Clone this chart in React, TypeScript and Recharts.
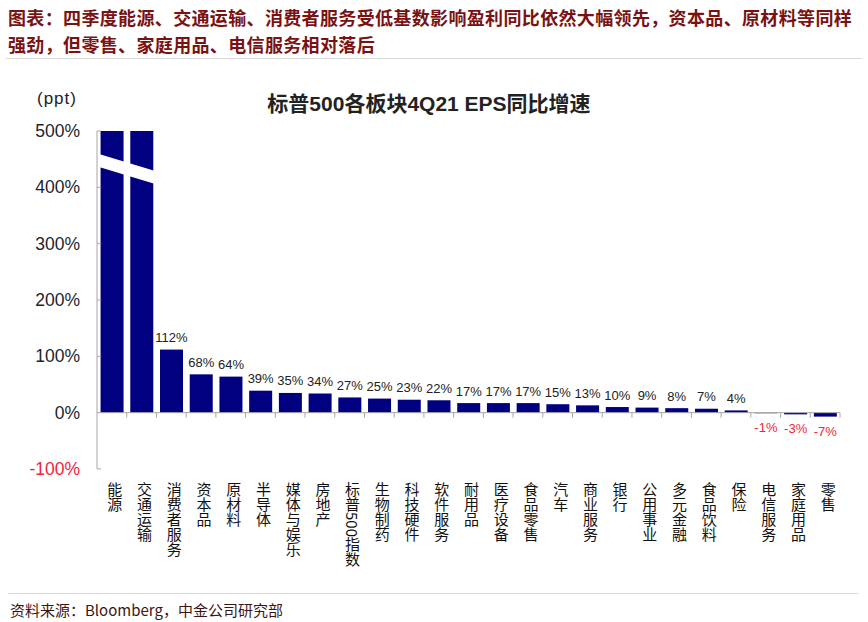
import { BarChart, Bar, XAxis, YAxis, ReferenceLine, LabelList } from 'recharts'

const sectors = [
  '能源', '交通运输', '消费者服务', '资本品', '原材料', '半导体', '媒体与娱乐', '房地产',
  '标普500指数', '生物制药', '科技硬件', '软件服务', '耐用品', '医疗设备', '食品零售', '汽车',
  '商业服务', '银行', '公用事业', '多元金融', '食品饮料', '保险', '电信服务', '家庭用品', '零售',
]
// first two run off the top of the axis (broken bars), shown capped at 500
const epsGrowth = [500, 500, 112, 68, 64, 39, 35, 34, 27, 25, 23, 22, 17, 17, 17, 15, 13, 10, 9, 8, 7, 4, -1, -3, -7]
const yTicks = [-100, 0, 100, 200, 300, 400, 500]
const Y_MAX = 500

const W = 868
const H = 622
const PLOT_L = 97
const PLOT_R = 840
const PLOT_T = 131
const PLOT_B = 469
const BAND = (PLOT_R - PLOT_L) / sectors.length
const ZERO_Y = PLOT_T + (PLOT_B - PLOT_T) * (500 / 600)
const AXIS = '#a6a6a6'
const NUM_FONT = '"Liberation Sans", Arial, "Noto Sans CJK SC", sans-serif'
const CJK_FONT = '"Noto Sans CJK SC", "Liberation Sans", sans-serif'

const data = sectors.map((name, i) => ({ name, v: epsGrowth[i] }))

const YTick = ({ y, payload }: any) => {
  const red = payload.value < 0
  return (
    <g>
      {payload.value !== 0 && <line x1={PLOT_L} x2={PLOT_L + 4} y1={y} y2={y} stroke={AXIS} />}
      <text x={PLOT_L - 17} y={y + 6} textAnchor="end" fontSize={17.5} fontFamily={NUM_FONT}
        fill={red ? '#f3233c' : '#1f1f2e'}>{payload.value}%</text>
    </g>
  )
}

const XTick = ({ x, payload }: any) => (
  <g>
    <line x1={x + BAND / 2} x2={x + BAND / 2} y1={ZERO_Y} y2={ZERO_Y + 5} stroke={AXIS} />
    <text x={x + 3} y={482} fontSize={15} fontFamily={CJK_FONT} fill="#111"
      style={{ writingMode: 'vertical-rl' } as any}>{payload.value}</text>
  </g>
)

const BrokenBar = (p: any) => {
  const { x, y, width, height, fill, value } = p
  const v = Array.isArray(value) ? value[1] : value
  const top = Math.min(y, y + height)
  const h = Math.abs(height)
  if (v < Y_MAX) return <rect x={x} y={top} width={width} height={h} fill={fill} />
  const yAt = (px: number) => top + 22.5 + (px - PLOT_L) * 0.3
  const xl = x - 4
  const xr = x + width + 1
  return (
    <g>
      <rect x={x} y={top} width={width} height={h} fill={fill} />
      <polygon points={`${xl},${yAt(xl)} ${xr},${yAt(xr)} ${xr},${yAt(xr) + 13} ${xl},${yAt(xl) + 13}`} fill="#fff" />
    </g>
  )
}

const ValueLabel = (p: any) => {
  const { x, y, width, height, value } = p
  if (value >= Y_MAX) return null
  const top = Math.min(y, y + height)
  const bottom = Math.max(y, y + height)
  const neg = value < 0
  return (
    <text x={x + width / 2} y={neg ? bottom + 19 : top - 7.5} textAnchor="middle" fontSize={13}
      fontFamily={NUM_FONT} fill={neg ? '#f3233c' : '#222'}>{value}%</text>
  )
}

export default function App() {
  return (
    <div style={{ position: 'absolute', left: 0, top: 0, width: W, height: H, background: '#fff', overflow: 'hidden' }}>
      <div style={{ position: 'absolute', left: 8, top: 4, width: 856, fontFamily: CJK_FONT, fontWeight: 700,
        fontSize: 18, lineHeight: '27px', color: '#7a1212', letterSpacing: 0.35 }}>
        图表：四季度能源、交通运输、消费者服务受低基数影响盈利同比依然大幅领先，资本品、原材料等同样强劲，但零售、家庭用品、电信服务相对落后
      </div>
      <div style={{ position: 'absolute', left: 6, top: 58, width: 856, height: 1, background: '#d9d9d9' }} />

      <div style={{ position: 'absolute', left: 0, top: 87, width: W, textAlign: 'center',
        fontFamily: NUM_FONT, fontWeight: 700, fontSize: 21, color: '#222' }}>
        <span style={{ position: 'relative', left: -5 }}>标普500各板块4Q21 EPS同比增速</span>
      </div>
      <div style={{ position: 'absolute', left: 37, top: 89, fontFamily: NUM_FONT, fontSize: 17, letterSpacing: 1, color: '#222' }}>(ppt)</div>

      <div style={{ position: 'absolute', left: 0, top: 0 }}>
        <BarChart width={W} height={H} data={data} barCategoryGap="12%"
          margin={{ top: PLOT_T, right: W - PLOT_R, bottom: 33, left: PLOT_L - 60 }}>
          <YAxis domain={[-100, Y_MAX]} ticks={yTicks} allowDataOverflow width={60} interval={0}
            axisLine={{ stroke: AXIS }} tickLine={false} tick={<YTick />} />
          <XAxis dataKey="name" height={120} interval={0} axisLine={false} tickLine={false} tick={<XTick />} />
          <ReferenceLine y={0} stroke={AXIS} />
          <Bar dataKey="v" fill="#000080" isAnimationActive={false} shape={<BrokenBar />}>
            <LabelList dataKey="v" content={<ValueLabel />} />
          </Bar>
        </BarChart>
      </div>

      <div style={{ position: 'absolute', left: 8, top: 593, width: 850, height: 1, background: '#d9d9d9' }} />
      <div style={{ position: 'absolute', left: 10, top: 599, fontFamily: CJK_FONT, fontSize: 15, color: '#3c1414' }}>
        资料来源：Bloomberg，中金公司研究部
      </div>
    </div>
  )
}
